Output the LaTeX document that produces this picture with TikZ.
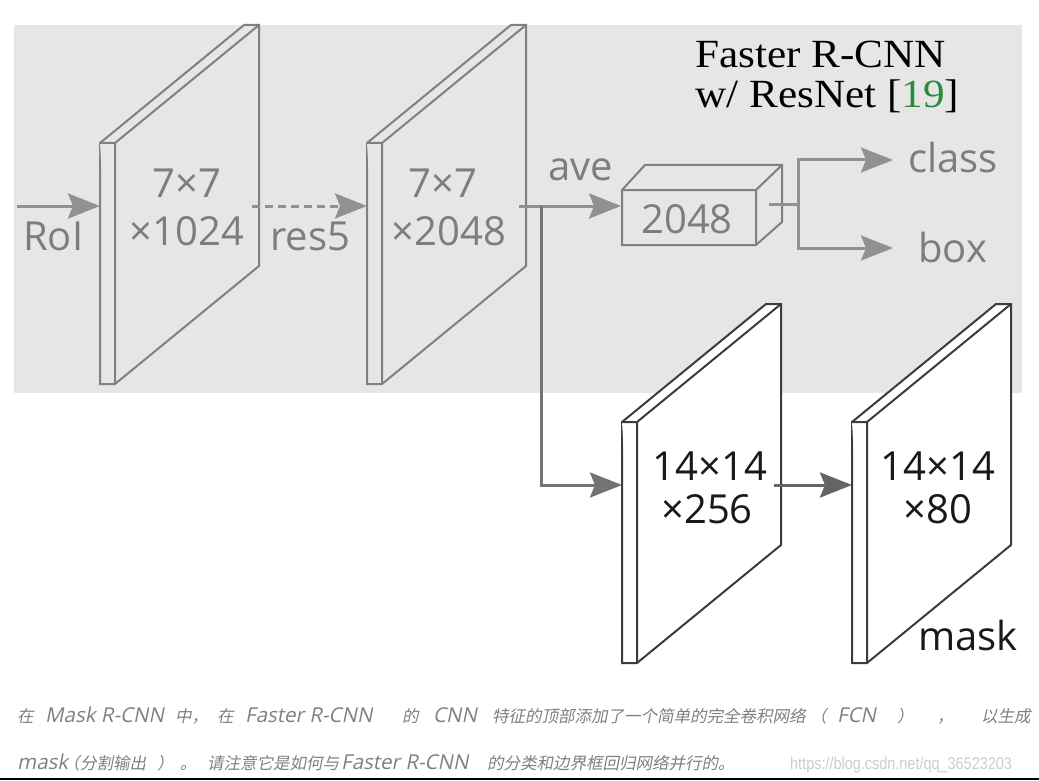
\documentclass[tikz,border=0pt]{standalone}
\usepackage{fontspec}
\usetikzlibrary{arrows.meta}
\newfontfamily\lab{Open Sans}
\newfontfamily\ttl{Liberation Serif}
\newfontfamily\cjk[FakeSlant=0.2]{Noto Sans CJK SC}
\newfontfamily\caplat[FakeSlant=0.2]{Open Sans}
\newfontfamily\wmk[FakeStretch=0.85]{Liberation Sans}
\newcommand{\lt}[1]{{\caplat\fontsize{20.5}{20.5}\selectfont #1}}
\newcommand{\seg}[2]{\makebox[#1pt][l]{#2}}
\definecolor{bggray}{RGB}{230,230,230}
\definecolor{upline}{RGB}{128,128,128}
\definecolor{uptext}{RGB}{125,125,125}
\definecolor{arrgray}{RGB}{145,145,145}
\definecolor{lowline}{RGB}{60,60,60}
\definecolor{lowtext}{RGB}{25,25,25}
\definecolor{lowarr}{RGB}{100,100,100}
\definecolor{midarr}{RGB}{115,115,115}
\definecolor{refgreen}{RGB}{40,140,60}
\definecolor{captext}{RGB}{128,128,128}
\definecolor{wmcol}{RGB}{205,205,205}
\tikzset{
  plate/.pic={
    \filldraw[pic actions] (0,0) -- (144,-118) -- (159,-118) -- (159,123) -- (15,241) -- (0,241) -- cycle;
    \draw[pic actions] (0,0) -- (15,0) -- (15,241) (15,0) -- (159,-118);
    \coordinate (-in) at (0,63);
    \coordinate (-out) at (152,63);
  },
  upplate/.style={draw=upline, fill=bggray, line width=2pt, line join=miter},
  lowplate/.style={draw=lowline, fill=white, line width=2pt, line join=miter},
  tip/.style={-{Stealth[length=32pt,width=25pt,inset=5pt]}},
  uparrow/.style={draw=arrgray, line width=3pt, tip},
  upconn/.style={draw=arrgray, line width=3pt},
  midarrow/.style={draw=midarr, line width=3pt, tip},
  lowarrow/.style={draw=lowarr, line width=3pt, tip},
  uplabel/.style={text=uptext, font=\lab\fontsize{40}{45}\selectfont, inner sep=0pt},
  lowlabel/.style={text=lowtext, font=\lab\fontsize{40}{45}\selectfont, inner sep=0pt},
  titlelabel/.style={text=black, font=\ttl\fontsize{40}{40}\selectfont, inner sep=0pt, anchor=base west, xscale=1.08},
  caplabel/.style={text=captext, font=\cjk\fontsize{16.5}{16.5}\selectfont, inner sep=0pt, anchor=base west},
}
\begin{document}
\begin{tikzpicture}[x=1pt,y=-1pt]
\useasboundingbox (0,0) rectangle (1039,781);
\fill[white] (0,0) rectangle (1039,781);
\fill[bggray] (14,25) rectangle (1022,393);

% plates
\pic[upplate] (p1) at (100,143) {plate};
\pic[upplate] (p2) at (367,143) {plate};
\pic[lowplate] (p3) at (622,422) {plate};
\pic[lowplate] (p4) at (852,422) {plate};

% plate labels
\node[uplabel, anchor=base] (t1a) at (187,197) {7×7};
\node[uplabel, anchor=base] (t1b) at (187,245) {×1024};
\node[uplabel, anchor=base] (t2a) at (443,197) {7×7};
\node[uplabel, anchor=base] (t2b) at (449,245) {×2048};
\node[lowlabel, anchor=base] (t3a) at (710,480) {14×14};
\node[lowlabel, anchor=base] (t3b) at (707,523) {×256};
\node[lowlabel, anchor=base] (t4a) at (938,480) {14×14};
\node[lowlabel, anchor=base] (t4b) at (938,523) {×80};
\node[lowlabel, anchor=base west] (mask) at (918,650) {mask};

% cuboid 2048
\filldraw[draw=upline, fill=bggray, line width=2pt, line join=miter]
  (622,190) -- (645,165) -- (782,165) -- (782,222) -- (756,245) -- (622,245) -- cycle;
\draw[draw=upline, line width=2pt, line join=miter] (622,190) -- (756,190) -- (756,245) (756,190) -- (782,165);
\node[uplabel, anchor=base] (box) at (687,233) {2048};
\coordinate (boxin) at (621,206);
\coordinate (boxout) at (769,204);

% labels
\node[uplabel, anchor=base west] (roilab) at (23,250) {RoI};
\node[uplabel, anchor=base west] (res5) at (270,250) {res5};
\node[uplabel, anchor=base west] (ave) at (548,180) {ave};
\node[uplabel, anchor=base west] (cls) at (908,172) {class};
\node[uplabel, anchor=base west] (bx) at (918,262) {box};
\node[titlelabel] (title1) at (695,68) {Faster R-CNN};
\node[titlelabel] (title2) at (695,108) {w/ ResNet [\textcolor{refgreen}{19}]};

% connectors
\coordinate (roi) at (17,206);
\draw[uparrow] (roi) -- (p1-in);
\draw[uparrow, dash pattern=on 8pt off 5pt] (p1-out) -- (p2-in);
\draw[uparrow] (p2-out) -- (boxin);
\coordinate (br) at (541,206);
\draw[midarrow] (br) |- (p3-in);
\coordinate (split) at (798,204);
\coordinate (clsin) at (893,160);
\coordinate (bxin) at (893,248);
\draw[upconn] (boxout) -- (split);
\draw[uparrow] (split) |- (clsin);
\draw[uparrow] (split) |- (bxin);
\draw[lowarrow] (p3-out) -- (p4-in);

% caption
\node[caplabel] (cap1) at (17,722) {\seg{28}{在}\seg{130}{\lt{Mask R-CNN}}\seg{42}{中，}\seg{28}{在}\seg{157}{\lt{Faster R-CNN}}\seg{31}{的}\seg{59}{\lt{CNN}}\seg{318}{特征的顶部添加了一个简单的完全卷积网络}\seg{27}{（}\seg{60}{\lt{FCN}}\seg{40}{）}\seg{44}{，}以生成};
\node[caplabel] (cap2) at (17,769) {\seg{46}{\lt{mask}}\seg{17}{（}\seg{77}{分割输出}\seg{23}{）}\seg{27}{。}\seg{134}{请注意它是如何与}\seg{146}{\lt{Faster R-CNN}}的分类和边界框回归网络并行的。};
\node[text=wmcol, font=\wmk\fontsize{17}{17}\selectfont, inner sep=0pt, anchor=base west] (wm) at (790,769) {https://blog.csdn.net/qq\_36523203};
\draw[black, line width=2pt] (0,779) -- (1039,779);
\end{tikzpicture}
\end{document}
